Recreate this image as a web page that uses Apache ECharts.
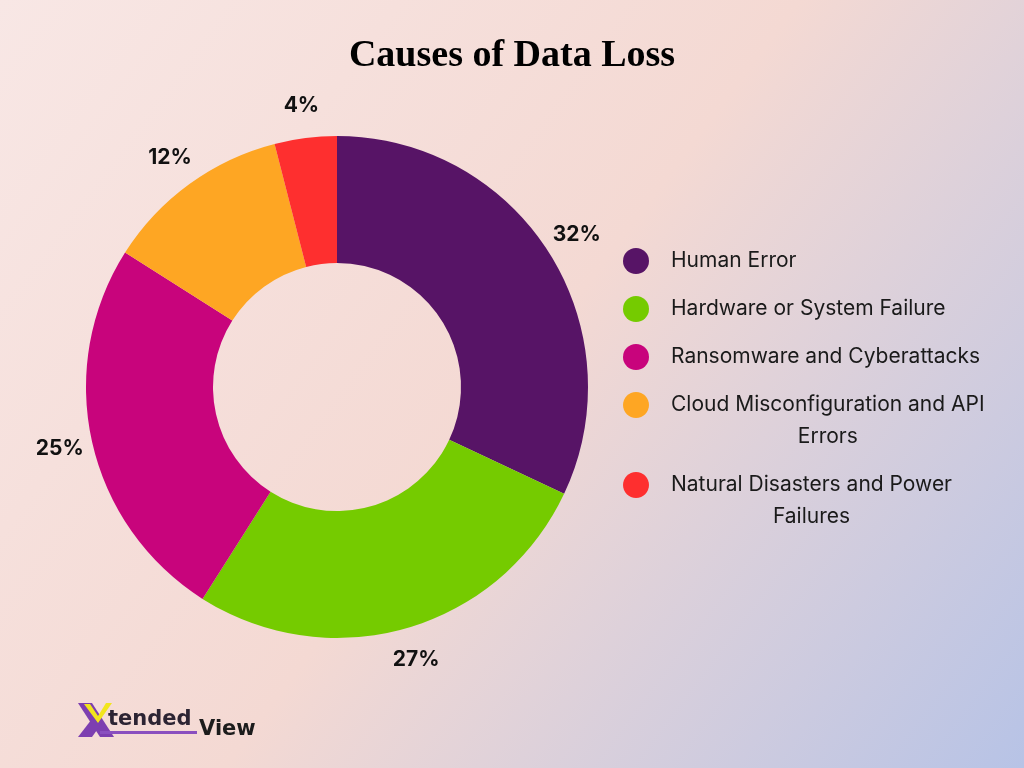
<!DOCTYPE html>
<html>
<head>
<meta charset="utf-8">
<title>Causes of Data Loss</title>
<script src="https://cdn.jsdelivr.net/npm/echarts@6/dist/echarts.min.js"></script>
<style>
    html, body { margin: 0; padding: 0; }
    #ech { width: 1024px; height: 768px; }
</style>
</head>
<body>
<div id="ech"></div>
<script>
// 数据
var causes = ['Human Error', 'Hardware or System Failure', 'Ransomware and Cyberattacks',
    'Cloud Misconfiguration and API Errors', 'Natural Disasters and Power Failures'];
var shares = [32, 27, 25, 12, 4];
var colors = ['#571466', '#75cb00', '#c8047c', '#fea623', '#fe2f2f'];
// 图例换行
var legendLines = {
    'Cloud Misconfiguration and API Errors': ['Cloud Misconfiguration and API', 'Errors'],
    'Natural Disasters and Power Failures': ['Natural Disasters and Power', 'Failures']
};

// 两行图例的圆点放在第一行
var tallDot = 'path://M13 0C20.18 0 26 5.82 26 13C26 20.18 20.18 26 13 26C5.82 26 0 20.18 0 13C0 5.82 5.82 0 13 0ZM13 58L13 58';

var pieData = causes.map(function (name, i) {
    return { name: name, value: shares[i], itemStyle: { color: colors[i] } };
});
var labelData = causes.map(function (name, i) {
    return { name: name, value: shares[i] };
});
var legendData = causes.map(function (name) {
    return legendLines[name] ? { name: name, icon: tallDot } : { name: name };
});

var ownChart = echarts.init(document.getElementById('ech'));
var option = {
    backgroundColor: new echarts.graphic.LinearGradient(0, 0, 1, 1, [
        { offset: 0, color: '#f8e7e5' },
        { offset: 0.5, color: '#f4d9d3' },
        { offset: 1, color: '#b7c3e6' }
    ]),
    title: {
        text: 'Causes of Data Loss',
        left: 'center',
        top: 32,
        textStyle: {
            fontFamily: 'Liberation Serif',
            fontWeight: 900,
            fontSize: 38,
            color: '#000'
        }
    },
    legend: {
        orient: 'vertical',
        left: 618,
        top: 240,
        icon: 'circle',
        itemWidth: 26,
        itemHeight: 58,
        itemGap: 16,
        selectedMode: false,
        data: legendData,
        formatter: function (name) {
            var lines = legendLines[name];
            if (!lines) return name;
            return lines.map(function (s) { return '{c|' + s + '}'; }).join('\n');
        },
        textStyle: {
            fontFamily: 'Inter',
            fontSize: 21,
            lineHeight: 32,
            color: '#1a1a1a',
            padding: [0, 0, 0, 17],
            rich: {
                c: { fontFamily: 'Inter', fontSize: 21, lineHeight: 32, color: '#1a1a1a', align: 'center' }
            }
        }
    },
    series: [{
        type: 'pie',
        center: [337, 387],
        radius: [124, 251],
        startAngle: 90,
        clockwise: true,
        silent: true,
        label: { show: false },
        labelLine: { show: false },
        data: pieData
    }, {
        // 百分比标签
        type: 'pie',
        center: [337, 387],
        radius: [266, 296],
        startAngle: 90,
        clockwise: true,
        silent: true,
        itemStyle: { color: 'rgba(0,0,0,0)' },
        label: {
            show: true,
            position: 'inside',
            formatter: '{c}%',
            fontFamily: 'Inter',
            fontWeight: 'bold',
            fontSize: 21,
            color: '#111'
        },
        labelLine: { show: false },
        data: labelData
    }],
    graphic: [{
        type: 'group',
        left: 78,
        top: 703,
        children: [
            { type: 'polygon', shape: { points: [[0, 1], [14, 1], [36, 35], [22, 35]] }, style: { fill: '#7d3fb0' } },
            { type: 'polygon', shape: { points: [[0, 35], [14, 35], [24, 21], [17, 13]] }, style: { fill: '#7d3fb0' } },
            { type: 'polygon', shape: { points: [[6, 2], [12, 2], [20, 14], [28, 1], [34, 1], [20, 21]] }, style: { fill: '#f2e51d' } },
            { type: 'rect', shape: { x: 22, y: 29, width: 97, height: 3 }, style: { fill: '#8a4fbf' } },
            { type: 'text', x: 30, y: 7, style: { text: 'tended', fontFamily: 'DejaVu Sans', fontWeight: 'bold', fontSize: 21, fill: '#2c2433' } },
            { type: 'text', x: 121, y: 17, style: { text: 'View', fontFamily: 'DejaVu Sans', fontWeight: 'bold', fontSize: 21, fill: '#1c1c1c' } }
        ]
    }]
};

//使用制定的配置项和数据显示图表
ownChart.setOption(option);
</script>
</body>
</html>
